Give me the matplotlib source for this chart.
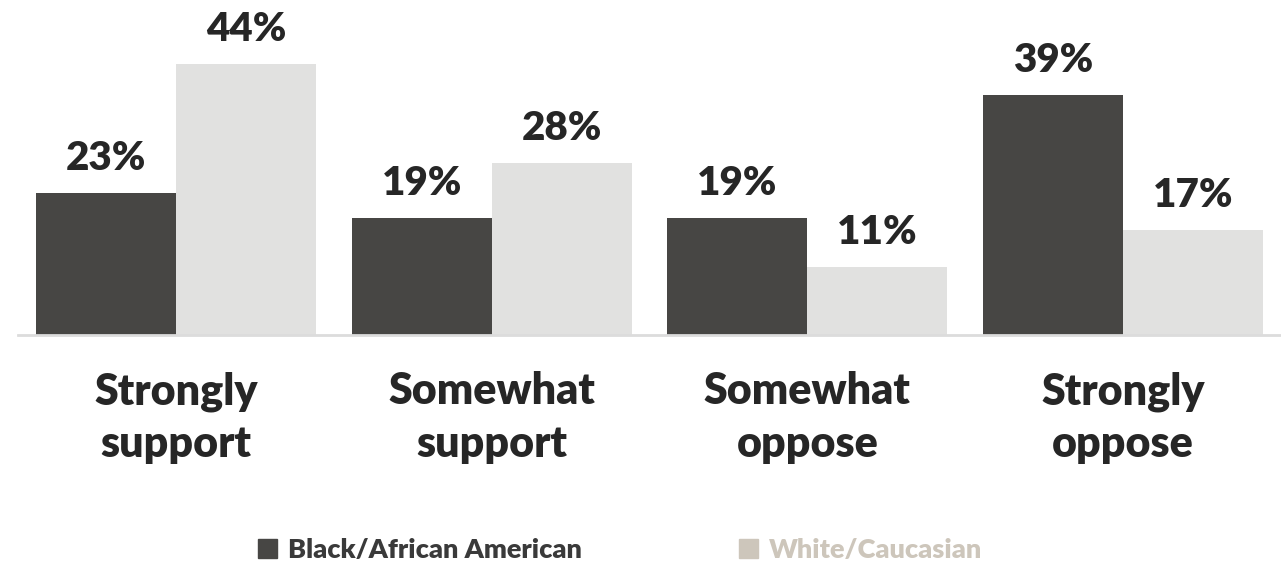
import numpy as np
import matplotlib
matplotlib.use('Agg')
import matplotlib.pyplot as plt
from matplotlib.patches import Patch

# 数据
categories = ['Strongly\nsupport', 'Somewhat\nsupport', 'Somewhat\noppose', 'Strongly\noppose']
black_vals = [23, 19, 19, 39]
white_vals = [44, 28, 11, 17]
series_names = ['Black/African American', 'White/Caucasian']

dark = '#474644'
light = '#e1e1e0'
legend_light = '#cdc6bb'
text_color = '#262626'

plt.rcParams['font.family'] = ['Lato', 'DejaVu Sans']

fig = plt.figure(figsize=(12.81, 5.63), dpi=100)
ax = fig.add_axes([18 / 1281, 228 / 563, 1263 / 1281, 308 / 563])

x = np.arange(len(categories))
w = 140 / 316
b1 = ax.bar(x - w / 2, black_vals, w, color=dark)
b2 = ax.bar(x + w / 2, white_vals, w, color=light)

# 数值标签
for bars, vals in [(b1, black_vals), (b2, white_vals)]:
    for rect, v in zip(bars, vals):
        ax.text(rect.get_x() + rect.get_width() / 2, v + 2.6, f'{v}%',
                ha='center', va='bottom', fontsize=29, fontweight='heavy',
                color=text_color, clip_on=False)

ax.set_xlim(-0.5, 3.5)
ax.set_ylim(0, 50)
ax.set_xticks(x)
ax.set_xticklabels(categories, fontsize=31, fontweight='heavy', color=text_color,
                   linespacing=1.38)
ax.tick_params(axis='x', length=0, pad=26)
ax.set_yticks([])
for s in ['top', 'right', 'left']:
    ax.spines[s].set_visible(False)
ax.spines['bottom'].set_color('#dcdcdc')
ax.spines['bottom'].set_linewidth(2)

handles = [Patch(color=dark), Patch(color=legend_light)]
leg = fig.legend(handles, series_names, loc='center', ncol=2,
                 bbox_to_anchor=(620 / 1281, 13 / 563), frameon=False,
                 prop={'size': 19.5, 'weight': 'heavy'},
                 handlelength=0.7, handleheight=0.7, handletextpad=0.4,
                 columnspacing=5.8)
leg.get_texts()[0].set_color('#3a3a3a')
leg.get_texts()[1].set_color(legend_light)

fig.savefig('out.png', dpi=100)
